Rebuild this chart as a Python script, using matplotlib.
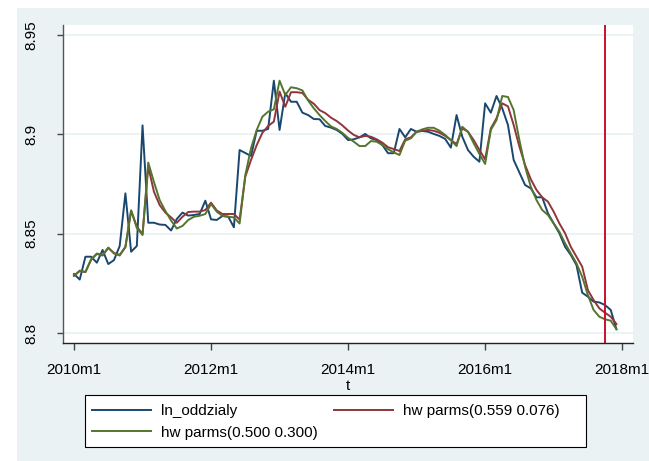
import matplotlib.pyplot as plt
from matplotlib.patches import Rectangle

plt.rcParams['font.family'] = ['Liberation Sans', 'DejaVu Sans']

# miesiace: 0 = 2010m1 ... 95 = 2017m12
t = list(range(96))

ln_oddzialy = [
    8.8297, 8.8269, 8.8384, 8.8384, 8.8354, 8.8418, 8.8347, 8.8367, 8.8438, 8.8703, 8.8409, 8.8438,
    8.9045, 8.8555, 8.8555, 8.8546, 8.8544, 8.8516, 8.8574, 8.8606, 8.8591, 8.8594, 8.8599, 8.8666,
    8.8572, 8.8569, 8.8589, 8.8586, 8.8532, 8.8921, 8.8906, 8.8891, 8.9018, 8.9018, 8.9027, 8.9270,
    8.9022, 8.9207, 8.9164, 8.9164, 8.9109, 8.9097, 8.9077, 8.9076, 8.9042, 8.9034, 8.9022, 8.9002,
    8.8971, 8.8975, 8.8985, 8.9002, 8.8980, 8.8971, 8.8946, 8.8905, 8.8905, 8.9027, 8.8985, 8.9027,
    8.9013, 8.9017, 8.9013, 8.9002, 8.8992, 8.8977, 8.8933, 8.9097, 8.8988, 8.8921, 8.8887, 8.8862,
    8.9156, 8.9109, 8.9193, 8.9131, 8.9047, 8.8871, 8.8808, 8.8745, 8.8728, 8.8683, 8.8683, 8.8603,
    8.8552, 8.8502, 8.8434, 8.8393, 8.8342, 8.8203, 8.8183, 8.8158, 8.8154, 8.8141, 8.8116, 8.8019,
]

hw_559_076 = [
    8.8289, 8.8312, 8.8307, 8.8370, 8.8398, 8.8390, 8.8428, 8.8403, 8.8393, 8.8433, 8.8616, 8.8535,
    8.8498, 8.8837, 8.8711, 8.8644, 8.8606, 8.8582, 8.8555, 8.8585, 8.8609, 8.8611, 8.8611, 8.8619,
    8.8656, 8.8617, 8.8599, 8.8599, 8.8599, 8.8571, 8.8787, 8.8871, 8.8946, 8.9008, 8.9042, 8.9064,
    8.9215, 8.9139, 8.9212, 8.9212, 8.9208, 8.9174, 8.9154, 8.9122, 8.9107, 8.9084, 8.9067, 8.9045,
    8.9019, 8.8997, 8.8985, 8.8992, 8.8988, 8.8975, 8.8958, 8.8935, 8.8926, 8.8916, 8.8975, 8.8985,
    8.9013, 8.9018, 8.9022, 8.9018, 8.9008, 8.8992, 8.8971, 8.8951, 8.9030, 8.9013, 8.8971, 8.8921,
    8.8874, 8.9030, 8.9081, 8.9156, 8.9141, 8.9047, 8.8938, 8.8846, 8.8774, 8.8720, 8.8683, 8.8661,
    8.8611, 8.8552, 8.8502, 8.8434, 8.8384, 8.8334, 8.8216, 8.8166, 8.8124, 8.8102, 8.8082, 8.8045,
]

hw_500_300 = [
    8.8287, 8.8314, 8.8307, 8.8371, 8.8400, 8.8393, 8.8430, 8.8400, 8.8390, 8.8433, 8.8617, 8.8529,
    8.8493, 8.8858, 8.8760, 8.8669, 8.8614, 8.8566, 8.8526, 8.8539, 8.8569, 8.8585, 8.8590, 8.8599,
    8.8649, 8.8611, 8.8589, 8.8585, 8.8582, 8.8551, 8.8795, 8.8930, 8.9022, 8.9089, 8.9114, 8.9126,
    8.9270, 8.9198, 8.9237, 8.9232, 8.9221, 8.9170, 8.9131, 8.9097, 8.9067, 8.9040, 8.9027, 8.9007,
    8.8982, 8.8963, 8.8941, 8.8941, 8.8966, 8.8963, 8.8946, 8.8925, 8.8909, 8.8896, 8.8968, 8.8980,
    8.9013, 8.9025, 8.9033, 8.9033, 8.9018, 8.8997, 8.8971, 8.8941, 8.9038, 8.9013, 8.8955, 8.8901,
    8.8851, 8.9022, 8.9072, 8.9193, 8.9188, 8.9122, 8.8971, 8.8837, 8.8736, 8.8669, 8.8619, 8.8594,
    8.8552, 8.8510, 8.8452, 8.8401, 8.8351, 8.8283, 8.8191, 8.8116, 8.8082, 8.8069, 8.8062, 8.8019,
]

x_ticks = [0, 24, 48, 72, 96]
x_labels = ['2010m1', '2012m1', '2014m1', '2016m1', '2018m1']
y_ticks = [8.8, 8.85, 8.9, 8.95]
y_labels = ['8.8', '8.85', '8.9', '8.95']
xline_t = 93  # 2017m10

names = ['ln_oddzialy', 'hw parms(0.559 0.076)', 'hw parms(0.500 0.300)']
colors = ['#1A476F', '#90353B', '#55752F']

W, H = 649, 461
fig = plt.figure(figsize=(W / 100, H / 100), dpi=100)
fig.patch.set_facecolor('white')

# tlo wykresu (styl s2color)
fig.patches.append(Rectangle((17 / W, 0), 1, 1 - 8 / H, transform=fig.transFigure,
                             facecolor='#EAF2F3', edgecolor='none', zorder=-5))

ax = fig.add_axes([63 / W, 1 - 343 / H, 570 / W, 318 / H])
ax.set_facecolor('white')

lines = []
for ys, c, n in zip([ln_oddzialy, hw_559_076, hw_500_300], colors, names):
    l, = ax.plot(t, ys, color=c, lw=1.4, label=n, zorder=3)
    lines.append(l)

ax.axvline(xline_t, color='#C8102E', lw=1.4, zorder=4)

ax.set_xlim(-1.93, 97.9)
ax.set_ylim(8.79497, 8.95503)

ax.set_xticks(x_ticks)
ax.set_xticklabels(x_labels, fontsize=11)
ax.set_yticks(y_ticks)
ax.set_yticklabels(y_labels, fontsize=11, rotation=90, va='center')
ax.tick_params(axis='x', length=5, width=1, color='#444444', pad=9.5)
ax.tick_params(axis='y', length=4, width=1, color='#444444', pad=14)

ax.grid(axis='y', color='#EAF2F3', lw=1.3)
ax.set_axisbelow(True)

for s in ['top', 'right']:
    ax.spines[s].set_visible(False)
ax.spines['left'].set_color('#555555')
ax.spines['bottom'].set_color('#222222')
ax.spines['left'].set_linewidth(1.0)
ax.spines['bottom'].set_linewidth(1.0)

ax.set_xlabel('t', fontsize=11, labelpad=1.5)

# legenda w ramce pod wykresem
fig.patches.append(Rectangle((85 / W, 1 - 447 / H), 501 / W, 52 / H, transform=fig.transFigure,
                             facecolor='white', edgecolor='black', lw=0.8, zorder=1))
fig.legend([lines[0], lines[2], lines[1]], [names[0], names[2], names[1]],
           ncol=2, frameon=False, loc='upper left',
           bbox_to_anchor=(92 / W, 1 - 404 / H), borderpad=0, borderaxespad=0,
           fontsize=11, handlelength=3.86, handletextpad=0.65,
           columnspacing=1.1, labelspacing=0.51)

fig.savefig('out.png', dpi=100)
